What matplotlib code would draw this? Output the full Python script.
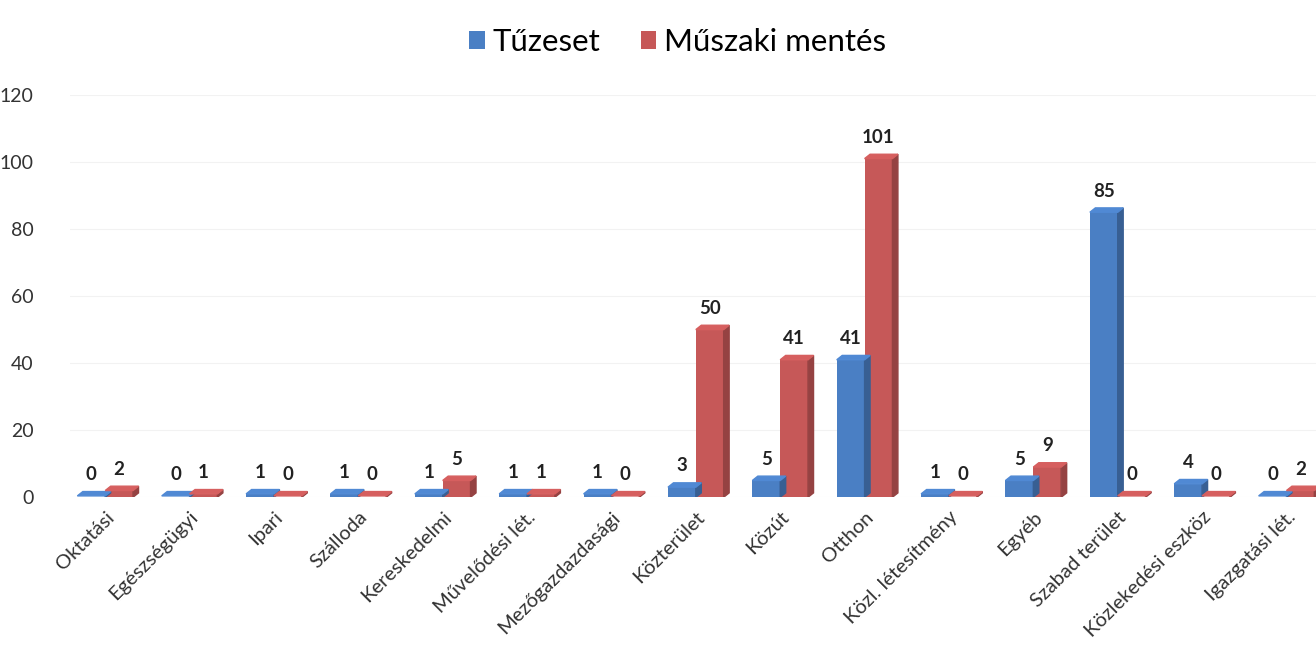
import numpy as np
import matplotlib.pyplot as plt
import matplotlib.colors as mc
from matplotlib.patches import Polygon

plt.rcParams['font.family'] = ['Lato', 'DejaVu Sans']

categories = ['Oktatási', 'Egészségügyi', 'Ipari', 'Szálloda', 'Kereskedelmi',
              'Művelődési lét.', 'Mezőgazdazdasági', 'Közterület', 'Közút', 'Otthon',
              'Közl. létesítmény', 'Egyéb', 'Szabad terület', 'Közlekedési eszköz',
              'Igazgatási lét.']
tuzeset = [0, 0, 1, 1, 1, 1, 1, 3, 5, 41, 1, 5, 85, 4, 0]
muszaki = [2, 1, 0, 0, 5, 1, 0, 50, 41, 101, 0, 9, 0, 0, 2]

blue = '#4A7FC4'
red = '#C65858'

fig = plt.figure(figsize=(13.16, 6.5), dpi=100)
ax = fig.add_axes([0.053, 0.235, 0.947, 0.619])

x = np.arange(len(categories))
w = 0.33
b1 = ax.bar(x - w / 2, tuzeset, w, color=blue, zorder=3, label='Tűzeset')
b2 = ax.bar(x + w / 2, muszaki, w, color=red, zorder=3, label='Műszaki mentés')

# fake 3D depth: top and side faces built from each bar
dx, dy = 0.065, 1.3
def shade(c, f):
    r, g, b = mc.to_rgb(c)
    return (min(r * f, 1), min(g * f, 1), min(b * f, 1))

for bars, c in ((b1, blue), (b2, red)):
    for bar in bars:
        x0 = bar.get_x()
        x1 = x0 + bar.get_width()
        h = max(bar.get_height(), 0.4)
        top = Polygon([(x0, h), (x0 + dx, h + dy), (x1 + dx, h + dy), (x1, h)],
                      closed=True, color=shade(c, 1.08), zorder=4)
        side = Polygon([(x1, 0), (x1 + dx, dy), (x1 + dx, h + dy), (x1, h)],
                       closed=True, color=shade(c, 0.75), zorder=4)
        ax.add_patch(side)
        ax.add_patch(top)

for bars, vals in ((b1, tuzeset), (b2, muszaki)):
    for bar, v in zip(bars, vals):
        ax.text(bar.get_x() + bar.get_width() / 2, max(v, 0.4) + dy + 2.5, str(v),
                ha='center', va='bottom', fontsize=13.5, fontweight='bold', color='#222222')

ax.set_ylim(0, 120)
ax.set_xlim(-0.42, 14.35)
ax.set_yticks(range(0, 121, 20))
ax.tick_params(axis='y', length=0, labelsize=14, colors='#333333', pad=26)
ax.set_xticks(x)
ax.set_xticklabels(categories, rotation=45, ha='right', rotation_mode='anchor',
                   fontsize=14.5, color='#333333')
ax.tick_params(axis='x', length=0, pad=8)
for s in ax.spines.values():
    s.set_visible(False)
ax.yaxis.grid(True, color='#f2f2f2', lw=0.8, zorder=0)

fig.legend(handles=[b1, b2], labels=['Tűzeset', 'Műszaki mentés'], loc='upper center',
           bbox_to_anchor=(0.515, 1.0), ncol=2, frameon=False, fontsize=22.5,
           handlelength=0.5, handleheight=0.5, handletextpad=0.25, columnspacing=1.3)

fig.savefig('out.png', dpi=100)
